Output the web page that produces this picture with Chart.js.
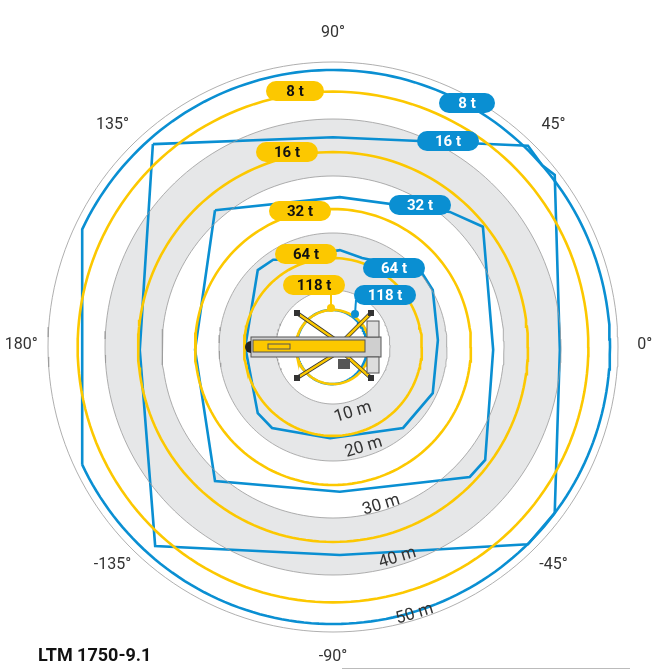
<!DOCTYPE html>
<html><head><meta charset="utf-8">
<script src="https://cdn.jsdelivr.net/npm/chart.js@4"></script>
<style>html,body{margin:0;padding:0;background:#fff}canvas{display:block}</style>
</head><body>
<canvas id="c" width="661" height="672"></canvas>
<script>
// ---- data (metres) ----
const gridRadii = [10, 20, 30, 40, 50];
const grayBands = [[10, 20], [30, 40]];
const loadLabels = ["8 t", "16 t", "32 t", "64 t", "118 t"];
const yellowRadii = [44.8, 34.2, 24.2, 15.6, 6.5];
const blue8Radius = 48.6, blue8ChordX = -44.0;
const blue118Radius = 6.2;
const blue16X = [-31.6, 0, 34.2, 36.7, 38.9, 39.8, 38.9, 34.2, 1.2, -31.2, -33.9, -31.6];
const blue16Y = [35.6, 36.8, 35.3, 31.9, 30.2, -0.5, -29.1, -34.6, -36.5, -34.9, -0.5, 35.6];
const blue32X = [-20.7, 1.2, 20.5, 26.3, 28.1, 26.7, 24.0, 1.2, -20.7, -24.2, -20.7];
const blue32Y = [24.0, 26.3, 23.7, 21.1, -0.5, -19.8, -22.8, -25.4, -23.5, -0.5, 24.0];
const blue64X = [-9.3, 1.2, 5.1, 15.3, 17.5, 18.4, 17.5, 12.3, -0.5, -10.7, -13.2, -15.4, -13.2, -10.5, -9.3];
const blue64Y = [15.3, 17.0, 15.6, 13.5, 10.0, 1.2, -8.1, -14.2, -16.0, -14.2, -11.6, 0, 13.5, 15.3, 15.3];
const angleLabels = ["0°", "45°", "90°", "135°", "180°", "-135°", "-90°", "-45°"];
const angleValues = [0, 45, 90, 135, 180, -135, -90, -45];
const distLabels = ["10 m", "20 m", "30 m", "40 m", "50 m"];
const distLabelRadii = [12, 18.4, 29, 38.7, 49];

const YEL = '#fcc800', BLU = '#0a8fd2';
function circlePts(r, n = 180) {
  const p = [];
  for (let i = 0; i <= n; i++) { const a = i / n * 2 * Math.PI; p.push({x: r * Math.cos(a), y: r * Math.sin(a)}); }
  return p;
}
function zip(xs, ys) { return xs.map((x, i) => ({x, y: ys[i]})); }
function blue8Pts() {
  const p = []; const a0 = Math.acos(blue8ChordX / blue8Radius);
  for (let i = 0; i <= 200; i++) { const a = -a0 + i / 200 * 2 * a0; p.push({x: blue8Radius * Math.cos(a), y: blue8Radius * Math.sin(a)}); }
  p.push({...p[0]}); return p;
}
const ds = [];
gridRadii.forEach(r => ds.push({data: circlePts(r), borderColor: '#9a9a9a', borderWidth: 0.8}));
yellowRadii.forEach(r => ds.push({data: circlePts(r), borderColor: YEL, borderWidth: 2.6}));
ds.push({data: blue8Pts(), borderColor: BLU, borderWidth: 2.6});
ds.push({data: zip(blue16X, blue16Y), borderColor: BLU, borderWidth: 2.6});
ds.push({data: zip(blue32X, blue32Y), borderColor: BLU, borderWidth: 2.6});
ds.push({data: zip(blue64X, blue64Y), borderColor: BLU, borderWidth: 2.6});
ds.push({data: circlePts(blue118Radius).map(p => ({x: p.x - 0.2, y: p.y * 1.05})), borderColor: BLU, borderWidth: 2.6});
ds.forEach(d => { d.showLine = true; d.pointRadius = 0; d.fill = false; d.tension = 0; });

const S = 5.7, CX = 333, CY = 347;
function pill(ctx, cx, cy, w, txt, col) {
  const h = 20, r = 10;
  ctx.fillStyle = col; ctx.beginPath();
  ctx.roundRect(cx - w / 2, cy - h / 2, w, h, r); ctx.fill();
  ctx.fillStyle = col === YEL ? '#111' : '#fff';
  ctx.font = 'bold 15px "Liberation Sans Narrow", Roboto, sans-serif';
  ctx.textAlign = 'center'; ctx.textBaseline = 'middle'; ctx.fillText(txt, cx, cy + 1);
}
const plug = {
  id: 'deco',
  beforeDatasetsDraw(ch) {
    const ctx = ch.ctx, xs = ch.scales.x, ys = ch.scales.y;
    const cx = xs.getPixelForValue(0), cy = ys.getPixelForValue(0);
    const k = xs.getPixelForValue(1) - cx;
    ctx.save(); ctx.fillStyle = '#e6e7e8';
    grayBands.forEach(([a, b]) => { ctx.beginPath(); ctx.arc(cx, cy, b * k, 0, 2 * Math.PI); ctx.arc(cx, cy, a * k, 0, 2 * Math.PI, true); ctx.fill('evenodd'); });
    ctx.restore();
  },
  afterDatasetsDraw(ch) {
    const ctx = ch.ctx, xs = ch.scales.x, ys = ch.scales.y;
    const cx = xs.getPixelForValue(0), cy = ys.getPixelForValue(0);
    const k = xs.getPixelForValue(1) - cx;
    ctx.save();
    // crane
    ctx.strokeStyle = '#222'; ctx.lineWidth = 1;
    const legs = [[-36, -34], [38, -34], [-36, 31], [38, 31]];
    legs.forEach(([dx, dy]) => {
      ctx.strokeStyle = '#333'; ctx.lineWidth = 4; ctx.beginPath(); ctx.moveTo(cx + dx * 0.08 + (dx < 0 ? 10 : 5), cy + (dy < 0 ? -4 : 4)); ctx.lineTo(cx + dx, cy + dy); ctx.stroke();
      ctx.strokeStyle = YEL; ctx.lineWidth = 2.5; ctx.stroke();
      ctx.fillStyle = '#333'; ctx.fillRect(cx + dx - 3, cy + dy - 3, 6, 6);
    });
    ctx.fillStyle = '#cfcfcf'; ctx.strokeStyle = '#555'; ctx.lineWidth = 1;
    ctx.fillRect(cx - 82, cy - 10, 130, 20); ctx.strokeRect(cx - 82, cy - 10, 130, 20);
    ctx.fillStyle = YEL; ctx.fillRect(cx - 80, cy - 7, 112, 12); ctx.strokeRect(cx - 80, cy - 7, 112, 12);
    ctx.fillStyle = '#222'; ctx.beginPath(); ctx.arc(cx - 82, cy, 6, Math.PI / 2, 3 * Math.PI / 2); ctx.fill();
    ctx.strokeRect(cx - 65, cy - 3, 22, 5);
    ctx.fillStyle = '#ddd'; ctx.fillRect(cx + 34, cy - 26, 12, 16); ctx.strokeRect(cx + 34, cy - 26, 12, 16);
    ctx.fillRect(cx + 34, cy + 10, 12, 16); ctx.strokeRect(cx + 34, cy + 10, 12, 16);
    ctx.fillStyle = '#555'; ctx.fillRect(cx + 5, cy + 12, 12, 10);
    // label stems
    ctx.strokeStyle = YEL; ctx.lineWidth = 2; ctx.beginPath(); ctx.moveTo(331, 292); ctx.lineTo(331, 308); ctx.stroke();
    ctx.fillStyle = YEL; ctx.beginPath(); ctx.arc(331, 308, 4, 0, 7); ctx.fill();
    ctx.strokeStyle = BLU; ctx.beginPath(); ctx.moveTo(356, 300); ctx.lineTo(355, 314); ctx.stroke();
    ctx.fillStyle = BLU; ctx.beginPath(); ctx.arc(355, 314, 4, 0, 7); ctx.fill();
    // pills
    const yp = [[295, 91, 58], [287, 152, 62], [300, 211, 62], [306, 254, 62], [314, 285, 62]];
    const bp = [[467, 103, 56], [448, 141, 62], [420, 205, 62], [394, 268, 62], [385, 295, 62]];
    loadLabels.forEach((t, i) => { pill(ctx, yp[i][0], yp[i][1], yp[i][2], t, YEL); pill(ctx, bp[i][0], bp[i][1], bp[i][2], t, BLU); });
    // angle labels
    ctx.fillStyle = '#333'; ctx.font = '16px "Liberation Sans Narrow", Roboto, sans-serif';
    ctx.textAlign = 'center'; ctx.textBaseline = 'middle';
    angleValues.forEach((a, i) => {
      const r = 54.7 * k, t = a * Math.PI / 180;
      ctx.fillText(angleLabels[i], cx + r * Math.cos(t), cy - r * Math.sin(t) - 2);
    });
    // distance labels
    ctx.font = '17px "Liberation Sans Narrow", Roboto, sans-serif';
    distLabels.forEach((t, i) => {
      const th = -73 * Math.PI / 180, r = distLabelRadii[i] * k;
      ctx.save(); ctx.translate(cx + r * Math.cos(th), cy - r * Math.sin(th)); ctx.rotate(-17 * Math.PI / 180);
      ctx.fillText(t, 0, 0); ctx.restore();
    });
    // title
    ctx.textAlign = 'left'; ctx.fillStyle = '#111'; ctx.font = 'bold 18px "Liberation Sans Narrow", Roboto, sans-serif';
    ctx.fillText('LTM 1750-9.1', 38, 656);
    ctx.strokeStyle = '#bbb'; ctx.lineWidth = 1; ctx.beginPath(); ctx.moveTo(342, 668.5); ctx.lineTo(630, 668.5); ctx.stroke();
    ctx.restore();
  }
};
new Chart(document.getElementById('c'), {
  type: 'scatter',
  data: {datasets: ds},
  options: {
    responsive: false, animation: false, events: [],
    layout: {padding: 0},
    plugins: {legend: {display: false}, tooltip: {enabled: false}},
    scales: {
      x: {type: 'linear', display: false, min: -CX / S, max: (661 - CX) / S},
      y: {type: 'linear', display: false, min: -(672 - CY) / S, max: CY / S}
    }
  },
  plugins: [plug]
});
</script>
</body></html>
